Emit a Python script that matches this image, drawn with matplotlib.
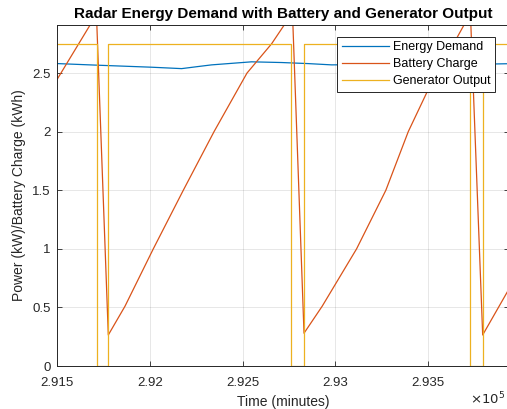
import matplotlib
matplotlib.use("Agg")
import matplotlib.pyplot as plt
from matplotlib.ticker import FuncFormatter, MultipleLocator

plt.rcParams['font.family'] = ['Liberation Sans', 'DejaVu Sans']

# energy demand (minutes, kW)
demand_t = [291500, 291721, 292009, 292171, 292261, 292333, 292549, 292711,
            292853, 292981, 293053, 293458, 293872, 293940]
demand_v = [2.581, 2.567, 2.550, 2.538, 2.556, 2.570, 2.596, 2.590,
            2.581, 2.570, 2.571, 2.575, 2.578, 2.580]

# battery charge (kWh)
battery_t = [291500, 291711, 291775, 291865, 292018, 292180, 292346, 292524,
             292657, 292725, 292770, 292832, 292930, 293116, 293274, 293395,
             293503, 293696, 293731, 293797, 293940]
battery_v = [2.45, 3.00, 0.265, 0.51, 1.00, 1.50, 2.00, 2.50,
             2.75, 2.91, 3.00, 0.28, 0.51, 1.00, 1.50, 2.00,
             2.36, 2.91, 3.00, 0.265, 0.66]

# generator output, switching times (on -> off -> on ...)
gen_level = 2.75
gen_off = [291713, 292763, 293728]
gen_on = [291775, 292832, 293796]

gen_t = [291500]
gen_v = [gen_level]
for a, b in zip(gen_off, gen_on):
    gen_t += [a, a, b, b]
    gen_v += [gen_level, 0, 0, gen_level]
gen_t.append(293940)
gen_v.append(gen_level)

xticks = [291500, 292000, 292500, 293000, 293500]

fig = plt.figure(figsize=(5.07, 4.09), dpi=100)
ax = fig.add_axes([0.1132, 0.1051, 0.8907, 0.8337])

ax.plot(demand_t, demand_v, color='#0072BD', lw=0.9, label='Energy Demand')
ax.plot(battery_t, battery_v, color='#D95319', lw=0.9, label='Battery Charge')
ax.plot(gen_t, gen_v, color='#EDB120', lw=0.9, label='Generator Output')

ax.set_xlim(291500, 293939)
ax.set_ylim(0, 2.91)
ax.set_xticks(xticks)
ax.xaxis.set_major_formatter(FuncFormatter(lambda v, p: '%g' % (v / 1e5)))
ax.yaxis.set_major_locator(MultipleLocator(0.5))
ax.yaxis.set_major_formatter(FuncFormatter(lambda v, p: '%g' % v))

ax.grid(True, color='#262626', alpha=0.13, lw=0.6)
ax.tick_params(direction='in', top=True, right=True, length=3.5, width=0.6,
               colors='#262626', labelsize=9.5, labelcolor='#262626', pad=5)
ax.tick_params(axis='x', pad=8)
for s in ax.spines.values():
    s.set_color('#262626')
    s.set_linewidth(0.7)

ax.set_title('Radar Energy Demand with Battery and Generator Output',
             fontsize=11, fontweight='bold', color='black', pad=5)
ax.set_xlabel('Time (minutes)', fontsize=10, color='#262626', labelpad=4)
ax.set_ylabel('Power (kW)/Battery Charge (kWh)', fontsize=10, color='#262626', labelpad=4)

fig.text(0.928, 0.003, r'$\times10^5$', fontsize=9.5, color='#262626',
         ha='left', va='bottom')

leg = ax.legend(loc='upper right', bbox_to_anchor=(495 / 507, 1 - 37 / 409),
                bbox_transform=fig.transFigure, borderaxespad=0, fontsize=9,
                fancybox=False, edgecolor='#262626', framealpha=1,
                handlelength=3.8, handletextpad=0.3, borderpad=0.35,
                labelspacing=0.4)
leg.get_frame().set_linewidth(0.7)

fig.savefig('out.png', dpi=100)
